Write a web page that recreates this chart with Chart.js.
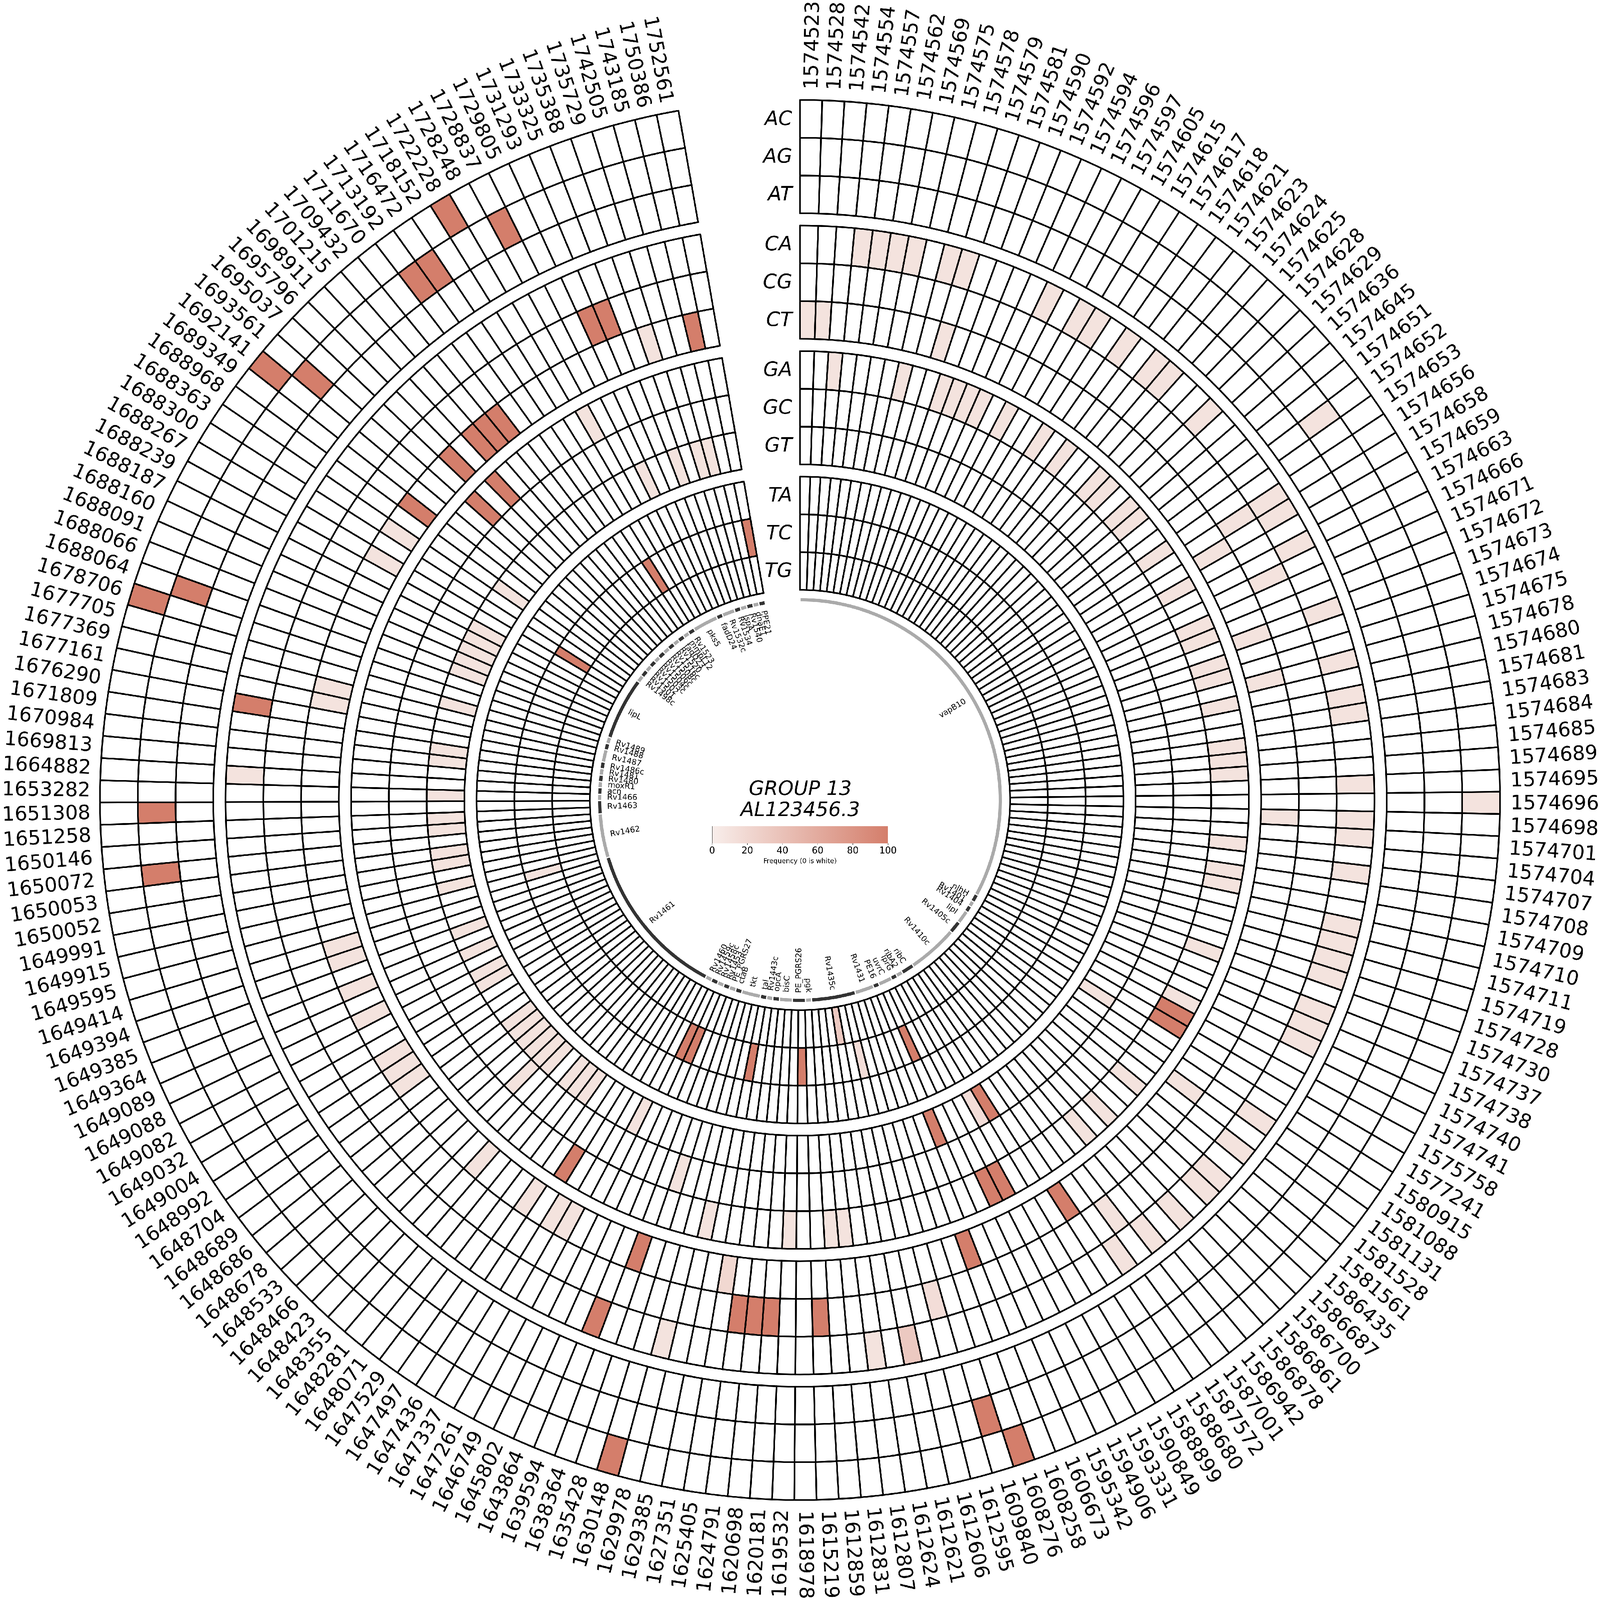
<!DOCTYPE html>
<html>
<head>
<meta charset="utf-8">
<title>GROUP 13 AL123456.3</title>
<script src="https://cdn.jsdelivr.net/npm/chart.js@4"></script>
<style>
  html, body { margin: 0; padding: 0; background: #fff; overflow: hidden; }
  #wrap { position: absolute; left: 0; top: 0; width: 6766px; height: 6766px; transform-origin: 0 0; }
  #ringChart { position: absolute; left: 0; top: 0; }
  #barChart { position: absolute; left: 2900px; top: 3450px; }
</style>
</head>
<body>
<div id="wrap">
  <canvas id="ringChart" width="6766" height="6766"></canvas>
  <canvas id="barChart" width="970" height="210"></canvas>
</div>
<script>
// genome positions, clockwise from 12 o'clock
const positions = [
  1574523, 1574528, 1574542, 1574554, 1574557, 1574562, 1574569, 1574575, 1574578, 1574579, 1574581, 1574590,
  1574592, 1574594, 1574596, 1574597, 1574605, 1574615, 1574617, 1574618, 1574621, 1574623, 1574624, 1574625,
  1574628, 1574629, 1574636, 1574645, 1574651, 1574652, 1574653, 1574656, 1574658, 1574659, 1574663, 1574666,
  1574671, 1574672, 1574673, 1574674, 1574675, 1574678, 1574680, 1574681, 1574683, 1574684, 1574685, 1574689,
  1574695, 1574696, 1574698, 1574701, 1574704, 1574707, 1574708, 1574709, 1574710, 1574711, 1574719, 1574728,
  1574730, 1574737, 1574738, 1574740, 1574741, 1575758, 1577241, 1580915, 1581088, 1581131, 1581528, 1581561,
  1586435, 1586687, 1586700, 1586861, 1586878, 1586942, 1587001, 1587572, 1588680, 1588899, 1590849, 1593331,
  1594906, 1595342, 1606673, 1608258, 1608276, 1609840, 1612595, 1612606, 1612621, 1612624, 1612807, 1612831,
  1612859, 1615219, 1618978, 1619532, 1620181, 1620698, 1624791, 1625405, 1627351, 1629385, 1629978, 1630148,
  1635428, 1638364, 1639594, 1643864, 1645802, 1646749, 1647261, 1647337, 1647436, 1647497, 1647529, 1648071,
  1648281, 1648355, 1648423, 1648466, 1648533, 1648678, 1648686, 1648689, 1648704, 1648992, 1649004, 1649032,
  1649082, 1649088, 1649089, 1649364, 1649385, 1649394, 1649414, 1649595, 1649915, 1649991, 1650052, 1650053,
  1650072, 1650146, 1651258, 1651308, 1653282, 1664882, 1669813, 1670984, 1671809, 1676290, 1677161, 1677369,
  1677705, 1678706, 1688064, 1688066, 1688091, 1688160, 1688187, 1688239, 1688267, 1688300, 1688363, 1688968,
  1689349, 1692141, 1693561, 1695037, 1695796, 1698911, 1701215, 1709432, 1711670, 1713192, 1716472, 1718152,
  1722228, 1728248, 1728837, 1729805, 1731293, 1733325, 1735388, 1735729, 1742505, 1743185, 1750386, 1752561
];

// substitution rows, outer ring first; each list is [position index, frequency], all others are 0
const AC = [[49,10],[88,100],[107,100],[157,100],[169,100],[180,100]];
const AG = [[29,10],[89,100],[144,100],[147,100],[158,100],[170,100],[177,100],[178,100],[182,100]];
const AT = [];
const CA = [[3,10],[4,10],[5,10],[6,10],[8,10],[9,10],[14,10],[16,10],[17,10],[19,10],[21,10],[22,10],[25,10],
  [31,10],[32,10],[34,10],[38,10],[41,10],[43,10],[44,10],[48,10],[50,10],[51,10],[53,10],[56,10],[57,10],[58,10],
  [59,10],[61,10],[62,10],[63,10],[68,10],[70,10],[72,10],[73,10],[75,10],[77,10],[79,10],[92,33],[94,10],[106,10],
  [110,100],[149,10],[153,100]];
const CG = [[31,10],[35,10],[78,10],[90,15],[97,100],[100,100],[101,100],[102,100],[184,100],[185,100]];
const CT = [[0,10],[1,10],[9,10],[32,10],[38,10],[41,10],[50,10],[69,10],[80,100],[87,100],[103,20],[109,100],
  [114,10],[115,10],[117,10],[121,10],[128,10],[129,10],[130,10],[133,10],[135,10],[137,10],[138,10],[154,10],
  [155,10],[164,10],[166,10],[168,100],[172,100],[174,100],[175,100],[176,100],[187,10],[190,100]];
const GA = [[2,10],[7,10],[10,10],[11,10],[12,10],[13,10],[15,10],[18,10],[20,10],[23,10],[24,10],[26,10],[27,10],
  [30,10],[33,10],[36,10],[37,10],[39,10],[40,10],[42,10],[45,10],[46,10],[47,10],[52,10],[54,10],[55,10],[60,10],
  [64,10],[65,100],[66,100],[71,10],[74,10],[76,10],[83,100],[84,100],[95,10],[96,10],[99,10],[105,10],[116,100],
  [171,100],[173,100],[181,10]];
const GC = [[108,10],[123,10]];
const GT = [[67,10],[81,100],[82,15],[86,100],[113,10],[118,10],[119,10],[120,10],[122,10],[123,10],[124,10],
  [125,10],[126,10],[127,10],[131,10],[132,10],[134,10],[136,10],[140,10],[142,10],[143,10],[145,10],[146,10],
  [148,10],[151,10],[152,10],[156,10],[159,10],[160,10],[161,10],[162,10],[163,10],[167,10],[183,10],[186,10],
  [188,10],[189,10]];
const TA = [];
const TC = [[85,100],[91,15],[98,100],[104,100],[111,100],[112,100],[139,10],[165,100],[179,100],[191,100]];
const TG = [[93,33]];

const rowNames = ['AC', 'AG', 'AT', 'CA', 'CG', 'CT', 'GA', 'GC', 'GT', 'TA', 'TC', 'TG'];
const rowHits = [AC, AG, AT, CA, CG, CT, GA, GC, GT, TA, TC, TG];

// genes on the inner track and where each one ends (degrees clockwise)
const geneNames = ['vapB10','nlhH','Rv1401','Rv1404','lipI','Rv1405c','Rv1410c','ribC','ribA2','lprG','uvrC','PE16',
  'Rv1431','Rv1435c','pgk','PE_PGRS26','bisC','opcA','Rv1443c','tal','tkt','ctaB','PE_PGRS27','Rv1453','Rv1458c',
  'Rv1459c','Rv1460','Rv1461','Rv1462','Rv1463','Rv1466','acn','moxR1','Rv1480','Rv1481','Rv1486c','Rv1487','Rv1488',
  'Rv1489','lipL','Rv1498c','Rv1501','Rv1502','Rv1503c','Rv1504c','Rv1506c','Rv1508c','Rv1516c','Rv1520','fadD23',
  'mmpL12','Rv1523','pks5','fadD24','Rv1532c','Rv1534','lspA','Rv1540','dnaE1','PPE21'];
const geneEnds = [118.2,120.4,122,123.8,127.6,131.1,145.7,149.35,151.2,152.9,156.8,158.5,
  164,176.65,178.45,182.15,185.9,187.8,189.55,191.4,196.85,198.7,200.6,202.35,204.25,
  206.15,208,253.35,266.05,269.85,271.65,273.5,275.3,277.15,279,280.9,284.5,286.35,
  288.2,306.2,308.15,310.05,311.85,313.65,315.4,317.3,319.15,320.95,322.75,324.6,
  326.35,328.2,335.5,337.3,340.95,342.75,344.6,346.45,348.2,350];

const colorbarTicks = [0, 20, 40, 60, 80, 100];
const colorbarValue = [100];

const FONT = '"DejaVu Sans"';
const LOW = [248, 238, 235];
const HIGH = [212, 126, 107];

// the window can report fewer css pixels than the photo has, so fit the drawing to it
document.getElementById('wrap').style.transform =
  'scale(' + (document.documentElement.clientWidth / 6766) + ')';

function freqColor(v) {
  if (!v) return '#ffffff';
  const t = v / 100;
  const c = LOW.map((a, i) => Math.round(a + (HIGH[i] - a) * t));
  return `rgb(${c[0]},${c[1]},${c[2]})`;
}

function rowColors(hits) {
  const colors = positions.map(() => '#ffffff');
  hits.forEach(h => { colors[h[0]] = freqColor(h[1]); });
  return colors;
}

const ROW_W = 159.7;
const GAP_W = 51.8;
const datasets = [];

rowNames.forEach((name, i) => {
  datasets.push({
    label: name,
    data: positions.map(() => 1),
    backgroundColor: rowColors(rowHits[i]),
    borderColor: '#000',
    borderWidth: 7,
    borderJoinStyle: 'round',
    weight: ROW_W
  });
  if (i % 3 == 2 && i < 11) {
    datasets.push({ label: 'gap', data: [1], backgroundColor: 'transparent', borderWidth: 0, weight: GAP_W });
  }
});
datasets.push({ label: 'gap', data: [1], backgroundColor: 'transparent', borderWidth: 0, weight: 32 });

datasets.push({
  label: 'genes',
  data: geneEnds.map((e, i) => e - (i ? geneEnds[i - 1] : 0)),
  backgroundColor: geneNames.map((g, i) => (i % 2 ? '#333333' : '#aaaaaa')),
  borderColor: '#fff',
  borderWidth: 5,
  weight: 19
});

// all the text around the rings
const ringText = {
  id: 'ringText',
  afterDraw(chart) {
    const ctx = chart.ctx;
    const outer = chart.getDatasetMeta(0).data;
    const cx = outer[0].x, cy = outer[0].y;

    ctx.save();
    ctx.fillStyle = '#000';
    ctx.textBaseline = 'middle';

    // position labels outside the rings
    ctx.font = `84px ${FONT}`;
    const r0 = outer[0].outerRadius + 45;
    outer.forEach((arc, i) => {
      const mid = (arc.startAngle + arc.endAngle) / 2;
      const left = mid + Math.PI / 2 >= Math.PI;
      drawRadial(ctx, cx, cy, mid, left ? r0 - 4 : r0, String(positions[i]), true, left ? 0 : 5);
    });

    // gene names inside the track
    ctx.font = `33.3px ${FONT}`;
    const geneMeta = chart.getDatasetMeta(chart.data.datasets.length - 1).data;
    const r1 = geneMeta[0].innerRadius - 22;
    geneMeta.forEach((arc, i) => {
      drawRadial(ctx, cx, cy, (arc.startAngle + arc.endAngle) / 2, r1, geneNames[i], false, 0);
    });

    // row names left of the first column
    ctx.font = `italic 84px ${FONT}`;
    ctx.textAlign = 'right';
    chart.data.datasets.forEach((ds, i) => {
      if (rowNames.indexOf(ds.label) < 0) return;
      const a = chart.getDatasetMeta(i).data[0];
      ctx.fillText(ds.label, cx - 33, cy - (a.innerRadius + a.outerRadius) / 2 + 4);
    });

    // centre title
    ctx.textAlign = 'center';
    ctx.textBaseline = 'alphabetic';
    ctx.font = `italic 84px ${FONT}`;
    ctx.fillText('GROUP 13', cx + 1, 3362);
    ctx.fillText('AL123456.3', cx + 1, 3451);
    ctx.restore();
  }
};

// text along a radius, flipped on the left half so it stays readable
function drawRadial(ctx, cx, cy, angle, r, text, outside, nudge) {
  const deg = (angle + Math.PI / 2) * 180 / Math.PI;
  const right = deg < 180;
  ctx.save();
  ctx.translate(cx + r * Math.cos(angle), cy + r * Math.sin(angle));
  ctx.rotate(right ? angle : angle + Math.PI);
  ctx.textAlign = (right == outside) ? 'left' : 'right';
  ctx.fillText(text, 0, nudge);
  ctx.restore();
}

new Chart(document.getElementById('ringChart').getContext('2d'), {
  type: 'doughnut',
  data: { labels: positions.map(String), datasets: datasets },
  options: {
    responsive: false,
    devicePixelRatio: 1,
    animation: false,
    rotation: 0,
    circumference: 350,
    cutout: 837.5,
    layout: { padding: 419.5 },
    plugins: { legend: { display: false }, tooltip: { enabled: false } },
    events: []
  },
  plugins: [ringText]
});

// colorbar
new Chart(document.getElementById('barChart').getContext('2d'), {
  type: 'bar',
  data: {
    labels: ['Frequency'],
    datasets: [{
      data: colorbarValue,
      backgroundColor(c) {
        const area = c.chart.chartArea;
        if (!area) return '#fff';
        const g = c.chart.ctx.createLinearGradient(area.left, 0, area.right, 0);
        g.addColorStop(0, freqColor(0.001));
        g.addColorStop(1, freqColor(100));
        return g;
      },
      borderColor: '#000',
      borderWidth: 1.2,
      borderSkipped: false,
      barPercentage: 1,
      categoryPercentage: 1
    }]
  },
  options: {
    indexAxis: 'y',
    responsive: false,
    devicePixelRatio: 1,
    animation: false,
    events: [],
    layout: { padding: { left: 111.5, right: 115, top: 43, bottom: 0 } },
    plugins: { legend: { display: false }, tooltip: { enabled: false } },
    scales: {
      y: { display: false },
      x: {
        min: 0,
        max: 100,
        afterBuildTicks(s) { s.ticks = colorbarTicks.map(v => ({ value: v })); },
        afterFit(s) { s.height = 93; s.paddingLeft = 0; s.paddingRight = 0; },
        grid: { drawOnChartArea: false, drawTicks: true, tickLength: 6, tickWidth: 1.5, tickColor: '#000' },
        border: { display: false },
        ticks: { color: '#000', maxRotation: 0, padding: 3, font: { family: 'DejaVu Sans', size: 38.6 } },
        title: {
          display: true,
          text: 'Frequency (0 is white)',
          color: '#000',
          padding: 0,
          font: { family: 'DejaVu Sans', size: 28 }
        }
      }
    }
  }
});
</script>
</body>
</html>
